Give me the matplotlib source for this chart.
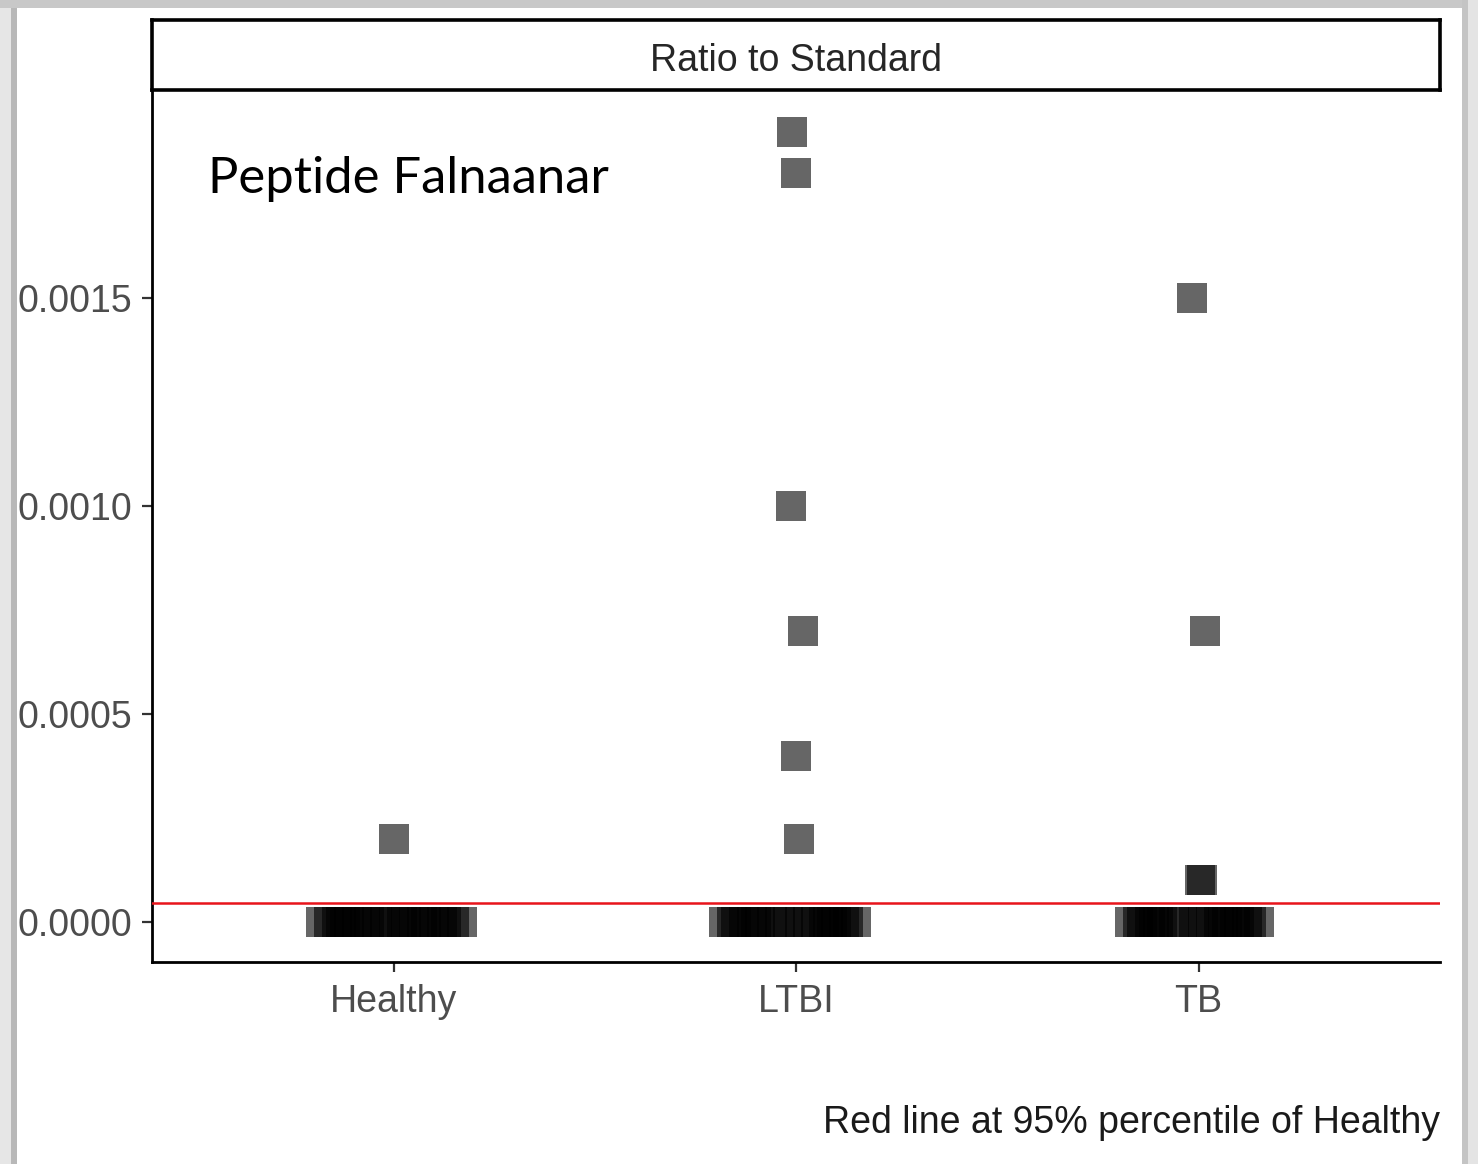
import matplotlib
matplotlib.use("Agg")
import matplotlib.pyplot as plt
from matplotlib.patches import Rectangle

# groups and read-off values (ratio to standard)
groups = ["Healthy", "LTBI", "TB"]
healthy_vals = [0.0002] + [0.0] * 22
ltbi_vals = [0.0019, 0.0018, 0.0010, 0.0007, 0.0004, 0.0002] + [0.0] * 20
tb_vals = [0.0015, 0.0007, 0.0001, 0.0001] + [0.0] * 20

# horizontal jitter (category units)
healthy_jit = [0.0, -0.18, -0.16, -0.14, -0.12, -0.11, -0.09, -0.07, -0.06, -0.04, -0.02,
               0.0, 0.02, 0.03, 0.05, 0.07, 0.08, 0.10, 0.12, 0.13, 0.15, 0.17, -0.13]
ltbi_jit = [-0.01, 0.0, -0.012, 0.017, 0.0, 0.007,
            -0.18, -0.16, -0.15, -0.13, -0.11, -0.09, -0.06, -0.04, -0.02,
            0.01, 0.03, 0.05, 0.07, 0.08, 0.10, 0.12, 0.13, 0.15, -0.10, 0.09]
tb_jit = [-0.015, 0.017, 0.004, 0.009,
          -0.17, -0.15, -0.14, -0.12, -0.10, -0.09, -0.06, -0.04, -0.01,
          0.01, 0.03, 0.05, 0.07, 0.09, 0.10, 0.12, 0.13, 0.15, -0.11, 0.06]

cutoff = 0.000045
yticks = [0.0, 0.0005, 0.0010, 0.0015]
ytick_labels = ["0.0000", "0.0005", "0.0010", "0.0015"]

W, H = 1478, 1164
fig = plt.figure(figsize=(W / 100, H / 100), dpi=100)
ax = fig.add_axes([152 / W, 1 - 962 / H, (1440 - 152) / W, (962 - 92) / H])

for i, (vals, jit) in enumerate(zip([healthy_vals, ltbi_vals, tb_vals],
                                     [healthy_jit, ltbi_jit, tb_jit])):
    xs = [i + 1 + j for j in jit]
    ax.scatter(xs, vals, marker="s", s=21.6 ** 2, color="black", alpha=0.6,
               linewidths=0, zorder=2)

ax.axhline(cutoff, color="#e8141b", lw=1.8, zorder=3)

ax.set_xlim(0.4, 3.6)
ax.set_ylim(-0.0000962, 0.001995)
ax.set_xticks([1, 2, 3])
ax.set_xticklabels(groups)
ax.set_yticks(yticks)
ax.set_yticklabels(ytick_labels)
ax.tick_params(axis="both", labelsize=27, labelcolor="#4d4d4d", color="#333333",
               length=7, width=1.6)
ax.tick_params(axis="x", pad=9)
ax.tick_params(axis="y", pad=7)
for lab in ax.get_xticklabels() + ax.get_yticklabels():
    lab.set_family("Liberation Sans")
for side in ["top", "right"]:
    ax.spines[side].set_visible(False)
for side in ["left", "bottom"]:
    ax.spines[side].set_linewidth(2.0)
    ax.spines[side].set_color("black")

fig.text(208 / W, 1 - 193 / H, "Peptide Falnaanar", fontsize=36.5, family="Lato",
         color="black", ha="left", va="baseline")

# facet strip
strip = fig.add_axes([152 / W, 1 - 90 / H, (1440 - 152) / W, (90 - 20) / H])
strip.set_xticks([])
strip.set_yticks([])
for sp in strip.spines.values():
    sp.set_linewidth(2.6)
    sp.set_color("black")
strip.text(0.5, 0.41, "Ratio to Standard", transform=strip.transAxes, ha="center",
           va="center", fontsize=27, family="Liberation Sans", color="#262626")

fig.text(1440 / W, 1 - 1133 / H, "Red line at 95% percentile of Healthy", ha="right",
         va="baseline", fontsize=27, family="Liberation Sans", color="#1a1a1a")

# grey picture frame around the screenshot
frame = [(0, 0, 11, H, "#e6e6e6"), (11, 0, 6, H, "#b8b8b8"),
         (0, H - 8, W, 8, "#c8c8c8"), (W - 16, 0, 16, H, "#c4c4c4"),
         (W - 10, 0, 10, H, "#e4e4e4")]
for x0, y0, w, h, c in frame:
    fig.patches.append(Rectangle((x0 / W, y0 / H), w / W, h / H, transform=fig.transFigure,
                                 facecolor=c, edgecolor="none", zorder=10))

fig.savefig("out.png", dpi=100)
